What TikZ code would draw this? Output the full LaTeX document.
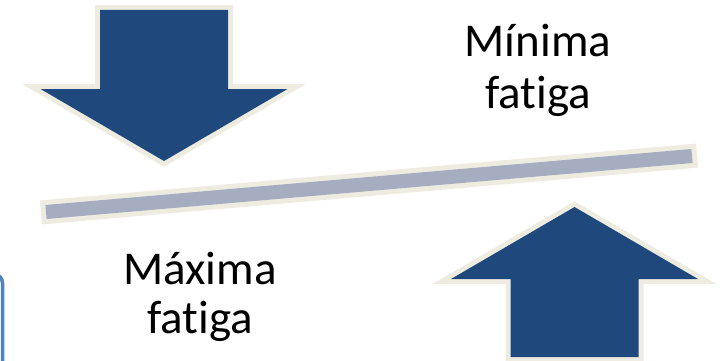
\documentclass[tikz,border=0pt]{standalone}
\usepackage{fontspec}
\setmainfont{Carlito}[Ligatures={NoCommon}]
\definecolor{arrowblue}{HTML}{1F497D}
\definecolor{beige}{HTML}{EEECE1}
\definecolor{bargray}{HTML}{A6ADC0}
\definecolor{edgeblue}{HTML}{4F81BD}
\tikzset{
  bigarrow/.style={fill=arrowblue, preaction={draw=beige, line width=10pt, line join=miter}},
  barstyle/.style={fill=bargray, preaction={draw=beige, line width=10pt, line join=miter}},
  label/.style={inner sep=0pt, anchor=base, font=\fontsize{47}{50}\selectfont, text=black}
}
\begin{document}
\begin{tikzpicture}[x=1pt, y=-1pt]
\useasboundingbox (0,0) rectangle (720,361);
\clip (0,0) rectangle (720,361);
% partial box at the left edge
\draw[edgeblue, line width=3.5pt, fill=white, rounded corners=9pt] (-60,274) rectangle (2.5,420);
% down arrow
\path[bigarrow] (100,10) -- (228,10) -- (228,89) -- (287.5,89) -- (164,161) -- (40.5,89) -- (100,89) -- cycle;
% bar
\path[barstyle] (45.4,205) -- (46.6,219) -- (692.6,163) -- (691.4,149) -- cycle;
% up arrow
\path[bigarrow] (510.5,357) -- (638.5,357) -- (638.5,279) -- (698,279) -- (574.5,207) -- (451,279) -- (510.5,279) -- cycle;
% labels
\node[label] (min1) at (538,57) {Mínima};
\node[label] (min2) at (538,108) {fatiga};
\node[label] (max1) at (200,284) {Máxima};
\node[label] (max2) at (200,333) {fatiga};
\end{tikzpicture}
\end{document}
